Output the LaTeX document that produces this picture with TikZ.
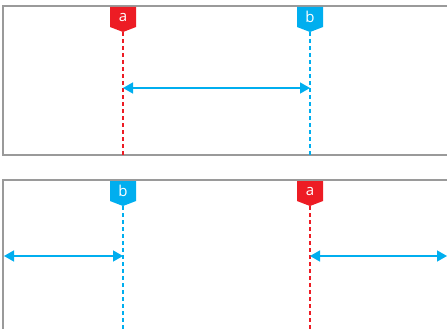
\documentclass[tikz,border=0pt]{standalone}
\usepackage{fontspec}
\setmainfont{Open Sans}
\usetikzlibrary{arrows.meta}
\definecolor{ared}{HTML}{ED1C24}
\definecolor{bblue}{HTML}{00AEEF}
\definecolor{frame}{HTML}{9A9A9A}
\begin{document}
\begin{tikzpicture}[x=1pt,y=-1pt,
  frameline/.style={draw=frame,line width=1.5pt},
  guide/.style={line width=1.2pt,dash pattern=on 4pt off 3pt},
  lbl/.style={text=white,inner sep=0pt,font=\fontsize{15}{15}\selectfont},
  span/.style={draw=bblue,line width=1.5pt,{Triangle[length=10pt,width=11pt]}-{Triangle[length=10pt,width=11pt]}}]
\useasboundingbox (0,0) rectangle (447,329);
% frames
\draw[frameline] (449,6) -- (3,6) -- (3,155) -- (449,155);
\draw[frameline] (449,180) -- (3,180) -- (3,331);
% top panel
\fill[ared] (110,7) -- (136,7) -- (136,27) -- (123,32) -- (110,27) -- cycle;
\node[lbl] (la1) at (123,17.5) {a};
\coordinate (ta1) at (123,32);
\coordinate (ea1) at (123,155);
\fill[bblue] (297,7) -- (323,7) -- (323,27) -- (310,32) -- (297,27) -- cycle;
\node[lbl] (lb1) at (310,17) {b};
\coordinate (tb1) at (310,32);
\coordinate (eb1) at (310,155);
\draw[guide,ared] (ta1) -- (ea1);
\draw[guide,bblue] (tb1) -- (eb1);
\coordinate (pa1) at (123,88);
\coordinate (pb1) at (310,88);
\draw[span] (pa1) -- (pb1);
% bottom panel
\fill[bblue] (110,181) -- (136,181) -- (136,201) -- (123,206) -- (110,201) -- cycle;
\node[lbl] (lb2) at (123,191) {b};
\coordinate (tb2) at (123,206);
\coordinate (eb2) at (123,329);
\fill[ared] (297,181) -- (323,181) -- (323,201) -- (310,206) -- (297,201) -- cycle;
\node[lbl] (la2) at (310,191.5) {a};
\coordinate (ta2) at (310,206);
\coordinate (ea2) at (310,329);
\draw[guide,bblue] (tb2) -- (eb2);
\draw[guide,ared] (ta2) -- (ea2);
\coordinate (l2) at (4,256);
\coordinate (pb2) at (123,256);
\coordinate (pa2) at (310,256);
\coordinate (r2) at (447,256);
\draw[span] (l2) -- (pb2);
\draw[span] (pa2) -- (r2);
\end{tikzpicture}
\end{document}
